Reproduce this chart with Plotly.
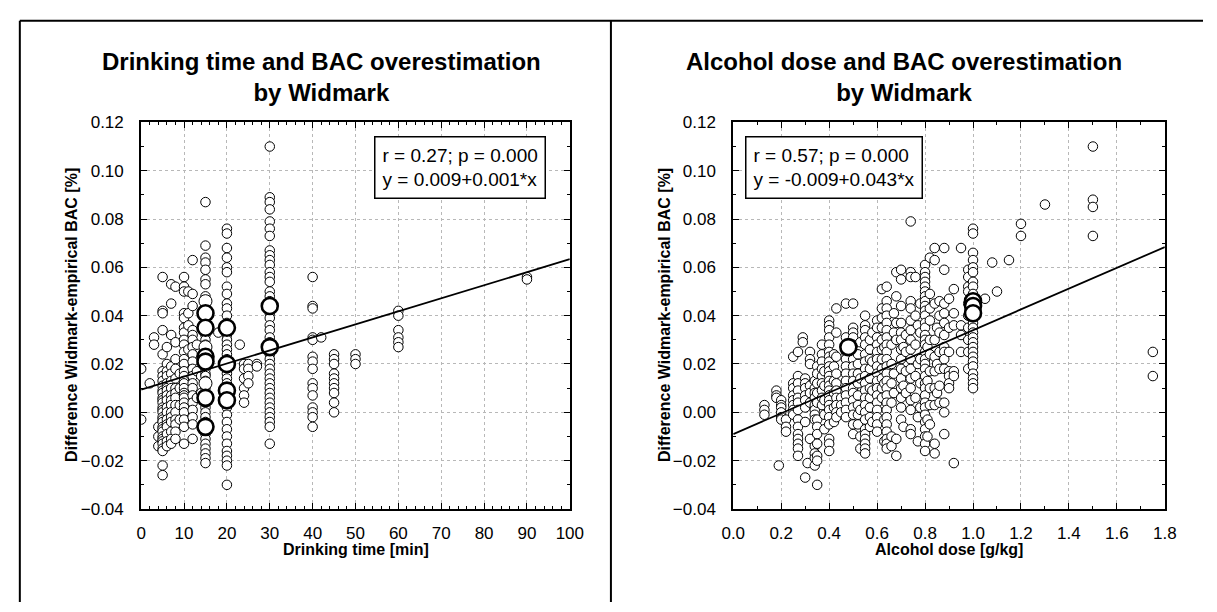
import plotly.graph_objects as go

# ---------------- Drinking time panel ----------------
time_levels = [0, 2, 3, 4, 5, 6, 7, 8, 9, 10, 11, 12, 13, 14, 15, 18, 20, 23, 24, 25, 27,
               30, 40, 42, 45, 50, 60, 90]
time_diffs = [
    [0.018, -0.003],
    [0.012],
    [0.031, 0.028],
    [-0.006, -0.010, -0.014],
    [0.056, 0.042, 0.041, 0.034, 0.024, 0.017, 0.015, 0.013, 0.011, 0.009, 0.008, 0.006, 0.005,
     0.004, 0.002, 0.001, 0.000, -0.002, -0.003, -0.004, -0.006, -0.007, -0.008, -0.010,
     -0.011, -0.012, -0.013, -0.015, -0.016, -0.022, -0.026],
    [0.027, 0.020, 0.017, 0.015, 0.012, 0.010, 0.009, 0.007, 0.005, 0.002, 0.000, -0.003,
     -0.005, -0.006, -0.009, -0.012, -0.014],
    [0.053, 0.045, 0.032, 0.019, 0.016, 0.013, 0.010, 0.007, 0.005, 0.003, 0.000, -0.002,
     -0.004, -0.008, -0.011, -0.013],
    [0.052, 0.029, 0.022, 0.018, 0.014, 0.010, 0.008, 0.006, 0.003, 0.000, -0.003, -0.005,
     -0.008, -0.011],
    [0.016, 0.010, 0.003, -0.003],
    [0.056, 0.052, 0.050, 0.041, 0.039, 0.035, 0.033, 0.030, 0.028, 0.025, 0.022, 0.020, 0.017,
     0.015, 0.013, 0.012, 0.010, 0.008, 0.007, 0.006, 0.004, 0.002, 0.000, -0.003, -0.006,
     -0.013],
    [0.050, 0.041, 0.036, 0.026],
    [0.063, 0.049, 0.044, 0.034, 0.032, 0.030, 0.027, 0.024, 0.021, 0.018, 0.015, 0.012,
     0.010, 0.007, 0.004, 0.001, -0.002, -0.005, -0.011],
    [0.028, 0.017, 0.006],
    [0.015, 0.008],
    [0.087, 0.069, 0.064, 0.062, 0.059, 0.055, 0.053, 0.048, 0.044, 0.039, 0.034, 0.032, 0.030,
     0.028, 0.025, 0.023, 0.020, 0.018, 0.016, 0.015, 0.013, 0.010, 0.008, 0.006, 0.004, 0.002,
     0.000, -0.002, -0.004, -0.007, -0.009, -0.011, -0.013, -0.015, -0.017, -0.019, -0.021],
    [0.033],
    [0.076, 0.074, 0.068, 0.064, 0.060, 0.058, 0.052, 0.049, 0.045, 0.043, 0.040, 0.037, 0.032,
     0.030, 0.028, 0.026, 0.024, 0.022, 0.018, 0.016, 0.014, 0.012, 0.007, 0.002, -0.001,
     -0.004, -0.007, -0.010, -0.013, -0.016, -0.018, -0.020, -0.022, -0.030],
    [0.028],
    [0.020, 0.018, 0.014, 0.010, 0.007, 0.004],
    [0.020, 0.018, 0.015, 0.012],
    [0.020, 0.019],
    [0.110, 0.089, 0.087, 0.084, 0.079, 0.076, 0.073, 0.067, 0.065, 0.063, 0.061, 0.058, 0.056,
     0.054, 0.050, 0.048, 0.046, 0.041, 0.039, 0.036, 0.034, 0.031, 0.029, 0.024, 0.022, 0.020,
     0.018, 0.016, 0.014, 0.012, 0.010, 0.008, 0.006, 0.004, 0.002, 0.000, -0.002, -0.004,
     -0.006, -0.013],
    [0.056, 0.044, 0.043, 0.031, 0.030, 0.023, 0.021, 0.018, 0.012, 0.010, 0.007, 0.002,
     0.000, -0.002, -0.006],
    [0.031],
    [0.024, 0.022, 0.020, 0.016, 0.014, 0.012, 0.010, 0.008, 0.004, 0.000],
    [0.024, 0.022, 0.020],
    [0.042, 0.040, 0.034, 0.031, 0.029, 0.027],
    [0.056, 0.055],
]
# overlapping repeats, drawn as heavy rings
time_heavy_x = [15, 15, 15, 15, 15, 15, 20, 20, 20, 20, 30, 30]
time_heavy_y = [0.041, 0.035, 0.023, 0.021, 0.006, -0.006, 0.035, 0.020, 0.009, 0.005, 0.044, 0.027]
time_wide_x = [15, 15, 15]
time_wide_y = [0.046, 0.027, 0.012]
time_fit = (0.0094, 0.00054)      # intercept, slope
time_title = ["Drinking time and BAC overestimation", "by Widmark"]
time_stats = ["r = 0.27; p = 0.000", "y = 0.009+0.001*x"]

# ---------------- Alcohol dose panel ----------------
dose_levels = [0.13, 0.18, 0.19, 0.20, 0.22, 0.25, 0.27, 0.29, 0.30, 0.31, 0.32, 0.34, 0.35,
               0.37, 0.38, 0.40, 0.42, 0.43, 0.45, 0.47, 0.50, 0.52, 0.53, 0.55, 0.57, 0.58,
               0.60, 0.62, 0.63, 0.64, 0.66, 0.67, 0.68, 0.70, 0.71, 0.72, 0.74, 0.76, 0.77,
               0.78, 0.80, 0.81, 0.82, 0.84, 0.85, 0.86, 0.88, 0.90, 0.92, 0.95, 0.98, 1.00,
               1.05, 1.08, 1.10, 1.15, 1.20, 1.30, 1.50, 1.75]
dose_diffs = [
    [0.003, 0.001, -0.001],
    [0.009, 0.007, 0.006],
    [-0.022],
    [0.005, 0.003, 0.002, 0.000, -0.002, -0.003],
    [-0.003, -0.006, -0.008],
    [0.023, 0.012, 0.010, 0.007, 0.005, 0.003, 0.001, -0.001],
    [0.025, 0.015, 0.012, 0.009, 0.006, 0.004, 0.001, -0.003, -0.006, -0.009, -0.011, -0.013,
     -0.015, -0.018],
    [0.031, 0.029],
    [0.014, 0.012, 0.010, 0.007, 0.005, 0.002, -0.004, -0.027],
    [-0.021],
    [0.025, 0.022, 0.020, 0.011, 0.008, 0.004, -0.011],
    [0.013, 0.010, 0.008, 0.006, 0.003, 0.001, -0.001, -0.003, -0.014, -0.017, -0.019, -0.022],
    [0.019, 0.016, 0.012, 0.008, 0.004, -0.003, -0.006, -0.009, -0.013, -0.018, -0.020, -0.030],
    [0.028, 0.024, 0.021, 0.018, 0.015, 0.012, 0.009, 0.006, 0.003],
    [0.017, 0.011, 0.005, -0.001, -0.007],
    [0.038, 0.036, 0.034, 0.031, 0.028, 0.025, 0.023, 0.021, 0.019, 0.017, 0.015, 0.013, 0.011,
     0.009, 0.007, 0.005, 0.003, 0.001, -0.002, -0.005, -0.011, -0.013, -0.016],
    [0.024, 0.019, 0.013, 0.008, 0.002, -0.004],
    [0.043, 0.033, 0.023, 0.016, 0.012, 0.009, 0.006, 0.003, 0.000, -0.002],
    [0.006, 0.003, 0.000],
    [0.045, 0.031, 0.028, 0.025, 0.022, 0.019, 0.016, 0.013, 0.010, 0.007, 0.004, 0.001, -0.002],
    [0.045, 0.035, 0.033, 0.031, 0.028, 0.025, 0.022, 0.019, 0.016, 0.013, 0.010, 0.008, 0.005,
     0.002, -0.001, -0.005, -0.009],
    [0.024, 0.020, 0.016, 0.012, 0.007, 0.003, -0.001, -0.005],
    [0.029, 0.014, 0.001, -0.010, -0.015],
    [0.040, 0.036, 0.034, 0.031, 0.028, 0.024, 0.021, 0.018, 0.015, 0.012, 0.009, 0.006, 0.003,
     0.000, -0.003, -0.007, -0.009, -0.011, -0.013, -0.015, -0.017],
    [0.030, 0.026, 0.022, 0.018, 0.014, 0.010, 0.006, 0.002, -0.002, -0.006],
    [0.033, 0.021, 0.009, -0.004],
    [0.038, 0.035, 0.031, 0.028, 0.025, 0.022, 0.019, 0.016, 0.013, 0.010, 0.007, 0.004, 0.001,
     -0.002, -0.005, -0.008],
    [0.051, 0.043, 0.039, 0.035, 0.030, 0.026, 0.022, 0.018, 0.014, 0.010, 0.006],
    [0.027, 0.012, -0.003, -0.012],
    [0.052, 0.046, 0.043, 0.040, 0.037, 0.034, 0.031, 0.028, 0.025, 0.022, 0.019, 0.016, 0.013,
     0.010, 0.007, 0.004, 0.001, -0.002, -0.005, -0.008, -0.011, -0.013, -0.015],
    [0.028, 0.020, 0.012, 0.004, -0.010, -0.014],
    [0.041, 0.033, 0.016, 0.008],
    [0.058, 0.048, 0.037, 0.030, -0.011, -0.018],
    [0.059, 0.055, 0.044, 0.037, 0.033, 0.030, 0.026, 0.022, 0.018, 0.014, 0.010, 0.006, 0.002,
     -0.003],
    [0.027, 0.011, -0.006],
    [0.032, 0.025, 0.017, 0.008],
    [0.079, 0.058, 0.056, 0.046, 0.043, 0.038, 0.034, 0.030, 0.026, 0.022, 0.018, 0.014, 0.010,
     0.005, 0.001, -0.007, -0.009],
    [0.056, 0.040, 0.028, 0.015, 0.006],
    [0.036, 0.020, -0.002, -0.012],
    [0.045, 0.033, 0.022, 0.012, 0.002],
    [0.061, 0.058, 0.056, 0.054, 0.052, 0.050, 0.048, 0.046, 0.044, 0.042, 0.040, 0.037, 0.035,
     0.032, 0.030, 0.028, 0.025, 0.022, 0.020, 0.018, 0.015, 0.012, 0.010, 0.007, 0.004, 0.002,
     -0.001, -0.004, -0.007, -0.010, -0.013, -0.016],
    [0.027, 0.013, -0.003, -0.010],
    [0.064, 0.049, 0.043, 0.038, 0.030, 0.024, 0.017, 0.010, 0.003, -0.005],
    [0.068, 0.063, 0.045, 0.030, 0.023, 0.017, 0.010, 0.003, -0.013, -0.017],
    [0.035, 0.020, 0.008],
    [0.046, 0.040, 0.033, 0.025, 0.018, 0.011, 0.004],
    [0.068, 0.059, 0.045, 0.041, 0.037, 0.032, 0.027, 0.025, 0.022, 0.018, 0.004, 0.000, -0.009],
    [0.047, 0.035, 0.025, 0.017, 0.015, 0.012, 0.010],
    [0.051, 0.041, 0.036, 0.017, 0.015, -0.021],
    [0.068, 0.036, 0.032, 0.025],
    [0.059, 0.056, 0.052, 0.050, 0.045, 0.040, 0.035, 0.030, 0.025, 0.018],
    [0.076, 0.074, 0.066, 0.063, 0.060, 0.058, 0.054, 0.052, 0.049, 0.047, 0.045, 0.043, 0.041,
     0.039, 0.037, 0.035, 0.033, 0.031, 0.029, 0.027, 0.025, 0.023, 0.021, 0.019, 0.016, 0.014,
     0.012, 0.010],
    [0.047],
    [0.062],
    [0.050],
    [0.063],
    [0.078, 0.073],
    [0.086],
    [0.110, 0.088, 0.085, 0.073],
    [0.025, 0.015],
]
dose_heavy_x = [1.0, 1.0, 1.0, 0.48]
dose_heavy_y = [0.046, 0.044, 0.041, 0.027]
dose_fit = (-0.009, 0.043)
dose_title = ["Alcohol dose and BAC overestimation", "by Widmark"]
dose_stats = ["r = 0.57; p = 0.000", "y = -0.009+0.043*x"]

y_ticks = [-0.04, -0.02, 0.00, 0.02, 0.04, 0.06, 0.08, 0.10, 0.12]
time_ticks = list(range(0, 101, 10))
dose_ticks = [0.0, 0.2, 0.4, 0.6, 0.8, 1.0, 1.2, 1.4, 1.6, 1.8]

# ---------------- figure geometry (pixels) ----------------
W, H = 1217, 612
FONT = "Liberation Sans, Arial, sans-serif"


def px(x):
    return x / W


def py(y):
    return 1 - y / H


def expand(levels, groups):
    xs, ys = [], []
    for lv, vals in zip(levels, groups):
        xs.extend([lv] * len(vals))
        ys.extend(vals)
    return xs, ys


fig = go.Figure()

small = dict(symbol="circle", size=9.5, color="white", line=dict(color="black", width=1))
heavy = dict(symbol="circle", size=16, color="white", line=dict(color="black", width=2.6))
wide = dict(symbol="circle", size=13, color="white", line=dict(color="black", width=1))

tx, ty = expand(time_levels, time_diffs)
fig.add_trace(go.Scatter(x=tx, y=ty, mode="markers", marker=small, xaxis="x", yaxis="y"))
fig.add_trace(go.Scatter(x=time_wide_x, y=time_wide_y, mode="markers", marker=wide,
                         xaxis="x", yaxis="y"))
fig.add_trace(go.Scatter(x=time_heavy_x, y=time_heavy_y, mode="markers", marker=heavy,
                         xaxis="x", yaxis="y"))
fig.add_trace(go.Scatter(x=[0, 100], y=[time_fit[0], time_fit[0] + time_fit[1] * 100],
                         mode="lines", line=dict(color="black", width=1.8),
                         xaxis="x", yaxis="y"))

dx, dy = expand(dose_levels, dose_diffs)
fig.add_trace(go.Scatter(x=dx, y=dy, mode="markers", marker=small, xaxis="x2", yaxis="y2"))
fig.add_trace(go.Scatter(x=dose_heavy_x, y=dose_heavy_y, mode="markers", marker=heavy,
                         xaxis="x2", yaxis="y2"))
fig.add_trace(go.Scatter(x=[0, 1.8], y=[dose_fit[0], dose_fit[0] + dose_fit[1] * 1.8],
                         mode="lines", line=dict(color="black", width=1.8),
                         xaxis="x2", yaxis="y2"))

axis_common = dict(
    showline=True, linecolor="black", linewidth=2, mirror="allticks",
    ticks="inside", ticklen=6, tickwidth=1, tickcolor="black",
    showgrid=True, gridcolor="#b8b8b8", gridwidth=1, griddash="dot",
    zeroline=False, tickfont=dict(family=FONT, size=17, color="black"),
)

y_dom = [py(516), py(117)]
fig.update_layout(
    width=W, height=H,
    margin=dict(l=0, r=0, t=0, b=0),
    paper_bgcolor="white", plot_bgcolor="white",
    showlegend=False,
    xaxis=dict(axis_common, domain=[px(132), px(570)], range=[0, 100], tickvals=time_ticks,
               ticklabelstandoff=8,
               minor=dict(dtick=2, tick0=0, ticks="inside", ticklen=3, tickcolor="black",
                          showgrid=False),
               anchor="y"),
    yaxis=dict(axis_common, domain=y_dom, range=[-0.04, 0.12], tickvals=y_ticks,
               tickformat=".2f", ticklabelstandoff=12,
               minor=dict(dtick=0.01, tick0=0, ticks="inside", ticklen=3, tickcolor="black",
                          showgrid=False),
               anchor="x"),
    xaxis2=dict(axis_common, domain=[px(737), px(1178)], range=[0, 1.8], tickvals=dose_ticks,
                tickformat=".1f", ticklabelstandoff=8,
                minor=dict(dtick=0.1, tick0=0, ticks="inside", ticklen=3, tickcolor="black",
                           showgrid=False),
                anchor="y2"),
    yaxis2=dict(axis_common, domain=y_dom, range=[-0.04, 0.12], tickvals=y_ticks,
                tickformat=".2f", ticklabelstandoff=12,
                minor=dict(dtick=0.01, tick0=0, ticks="inside", ticklen=3, tickcolor="black",
                           showgrid=False),
                anchor="x2"),
)

# panel frames
frame = dict(color="black", width=2)
fig.add_shape(type="line", xref="paper", yref="paper", x0=px(8), x1=1, y0=py(12), y1=py(12), line=frame)
fig.add_shape(type="line", xref="paper", yref="paper", x0=px(8), x1=px(8), y0=0, y1=py(12), line=frame)
fig.add_shape(type="line", xref="paper", yref="paper", x0=px(612), x1=px(612), y0=0, y1=py(12), line=frame)


def label(text, x, y, size, bold=False, angle=0):
    fig.add_annotation(
        text=f"<b>{text}</b>" if bold else text,
        xref="paper", yref="paper", x=px(x), y=py(y),
        xanchor="center", yanchor="middle", showarrow=False, textangle=angle,
        font=dict(family=FONT, size=size, color="black"),
    )


# two-line panel titles
label("<br>".join(time_title), 316, 70, 24, bold=True)
label("<br>".join(dose_title), 911, 70, 24, bold=True)

# axis titles
label("Drinking time [min]", 351, 558, 16, bold=True)
label("Alcohol dose [g/kg]", 957, 558, 16, bold=True)
label("Difference Widmark-empirical BAC [%]", 60, 316, 16, bold=True, angle=-90)
label("Difference Widmark-empirical BAC [%]", 666, 316, 16, bold=True, angle=-90)

# statistics boxes
for stats, cx, cy in [(time_stats, 458, 164), (dose_stats, 840, 164)]:
    fig.add_annotation(
        text="<br>".join(stats), xref="paper", yref="paper", x=px(cx), y=py(cy),
        xanchor="center", yanchor="middle", align="left", showarrow=False,
        font=dict(family=FONT, size=19, color="black"),
        bordercolor="black", borderwidth=1.5, borderpad=7, bgcolor="white",
    )

fig.write_html("out.html")
